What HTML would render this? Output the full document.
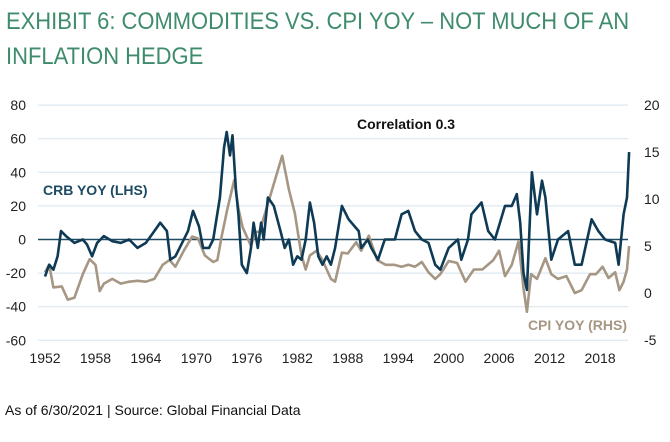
<!DOCTYPE html>
<html><head><meta charset="utf-8"><style>
body{margin:0;background:#fff;width:670px;height:442px;overflow:hidden;font-family:"Liberation Sans",sans-serif}
.t{position:absolute;left:6px;font-size:24px;color:#3f8c6c;white-space:nowrap;transform:scaleX(0.915);transform-origin:0 0}
</style></head><body>
<div class="t" style="top:8px">EXHIBIT 6: COMMODITIES VS. CPI YOY – NOT MUCH OF AN</div>
<div class="t" style="top:43px">INFLATION HEDGE</div>
<svg id="c" width="670" height="442" style="position:absolute;left:0;top:0" xmlns="http://www.w3.org/2000/svg"></svg>
<div style="position:absolute;left:5px;top:402px;font-size:14px;color:#111">As of 6/30/2021 | Source: Global Financial Data</div>
<script>
const leftTicks=[80,60,40,20,0,-20,-40,-60];
const rightTicks=[20,15,10,5,0,-5];
const yearTicks=[1952,1958,1964,1970,1976,1982,1988,1994,2000,2006,2012,2018];
const crbYears=[1952,1952.5,1953,1953.5,1953.9,1954.5,1955,1955.5,1956,1956.5,1957,1957.6,1958.2,1958.6,1959,1960,1961,1962,1963,1964,1965,1965.7,1966.5,1966.9,1967.5,1968,1969,1969.6,1970.3,1970.8,1971.5,1972,1972.8,1973.3,1973.6,1974,1974.3,1974.7,1975,1975.4,1976,1976.5,1976.8,1977.3,1977.7,1978,1978.5,1979.2,1980,1980.5,1981,1981.5,1982,1982.5,1983,1983.5,1984,1984.5,1985,1985.5,1986,1986.5,1987.3,1988.1,1989.3,1989.6,1990.4,1990.8,1991.6,1992.4,1993.6,1994.4,1995.2,1996,1996.8,1997.6,1998.4,1999,2000,2001.1,2001.5,2002.3,2002.7,2003.9,2004.7,2005.5,2006.7,2007.5,2008.1,2008.5,2008.9,2009.3,2009.9,2010.5,2011.1,2011.5,2012.2,2013,2014.2,2015,2015.8,2017,2017.8,2018.6,2019.8,2020.2,2020.8,2021.2,2021.45];
const crbValues=[-22,-15,-18,-10,5,2,0,-2,-1,0,-3,-10,-2,0,2,-1,-2,0,-5,-2,5,10,5,-12,-10,-5,5,17,8,-5,-5,0,25,55,64,50,62,30,15,-15,-20,-5,10,-5,10,0,25,20,5,-5,0,-15,-10,-12,0,22,10,-10,-15,-10,-15,-5,20,12,5,-5,0,-5,-12,0,0,15,17,5,0,-2,-15,-18,-5,0,-12,0,15,22,5,0,20,20,27,10,-20,-30,40,15,35,25,-12,0,5,-15,-15,12,5,0,-2,-15,15,25,52];
const cpiYears=[1952,1952.5,1953,1954,1954.7,1955.5,1956.5,1957.3,1958,1958.5,1959,1960,1961,1962,1963,1964,1965,1966,1966.8,1967.5,1968.5,1969.5,1970.2,1971,1972,1972.5,1973,1973.7,1974.5,1975,1975.5,1976.5,1977,1977.5,1978,1979,1980.2,1981,1981.7,1982.5,1983,1983.5,1984.3,1985,1986,1986.5,1987.3,1988,1989,1989.6,1990.5,1991.5,1992.5,1993.5,1994.4,1995.2,1996,1996.8,1997.6,1998.4,1999,2000,2001,2002,2003,2004,2005.3,2006,2006.7,2007.5,2008.3,2008.9,2009.3,2009.8,2010.5,2011.5,2012.2,2013,2014,2015,2015.8,2016.8,2017.5,2018.3,2019,2019.8,2020.3,2020.8,2021.2,2021.45];
const cpiValues=[2.2,3,0.6,0.7,-0.7,-0.5,2,3.6,3,0.2,1,1.5,1,1.2,1.3,1.2,1.5,3,3.5,2.8,4.5,6,5.8,4,3.3,3.5,6,9,12,9,7,5,6.5,6.5,8,11,14.6,11,8.5,4,2.5,4,4.5,3.5,1.5,1.2,4.3,4.2,5.4,4.5,6.1,3.5,3,3,2.8,3,2.8,3.3,2.2,1.5,2,3.4,3.2,1.2,2.5,2.5,3.5,4.5,1.8,3,5.5,0.5,-2,2,1.5,3.7,2,1.5,1.8,0,0.3,2,2,2.8,1.6,2.2,0.3,1.2,2.5,5];
const NS="http://www.w3.org/2000/svg";const svg=document.getElementById('c');
const X=y=>45+(y-1952)*8.41, YL=v=>239.5-v*1.68, YR=v=>105+(20-v)*9.4;
function mk(t,a,txt){const e=document.createElementNS(NS,t);for(const k in a)e.setAttribute(k,a[k]);if(txt!==undefined)e.textContent=txt;svg.appendChild(e);return e;}
leftTicks.forEach(v=>{
 const g=mk('line',{x1:38,x2:628,y1:YL(v),y2:YL(v),stroke:v===0?'#1f4a60':'#d5e3ee','stroke-width':v===0?1.5:1});
 
 
 const t=mk('text',{x:26,y:YL(v)+5,'text-anchor':'end','font-size':14,fill:'#222'},String(v));
 
 
});
rightTicks.forEach(v=>{
 const t=mk('text',{x:644,y:YR(v)+5,'font-size':14,fill:'#222'},String(v));
 
 
});
yearTicks.forEach(y=>{
 const t=mk('text',{x:X(y),y:363,'text-anchor':'middle','font-size':14,fill:'#222'},String(y));
 
 
});
const cp=mk('path',{d:cpiYears.map((y,i)=>(i?'L':'M')+X(y).toFixed(1)+','+YR(cpiValues[i]).toFixed(1)).join(''),fill:'none',stroke:'#a69684','stroke-width':2.6,'stroke-linejoin':'round'});


const cr=mk('path',{d:crbYears.map((y,i)=>(i?'L':'M')+X(y).toFixed(1)+','+YL(crbValues[i]).toFixed(1)).join(''),fill:'none',stroke:'#0e3a55','stroke-width':2.6,'stroke-linejoin':'round'});


const l1=mk('text',{x:43,y:195,'font-size':14,'font-weight':'bold',fill:'#1d4a63'},'CRB YOY (LHS)');


const l2=mk('text',{x:357,y:129,'font-size':14,'font-weight':'bold',fill:'#111'},'Correlation 0.3');


const l3=mk('text',{x:627,y:330,'text-anchor':'end','font-size':14,'font-weight':'bold',fill:'#a69684'},'CPI YOY (RHS)');


</script>
</body></html>
